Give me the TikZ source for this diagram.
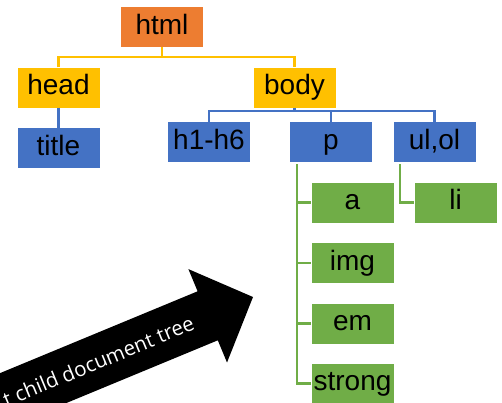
\documentclass[tikz,border=0pt]{standalone}
\usepackage{fontspec}
\setmainfont{Liberation Sans}
\newfontfamily\arrowfont{Open Sans}
\definecolor{orangeC}{HTML}{ED7D31}
\definecolor{yellowC}{HTML}{FFC000}
\definecolor{blueC}{HTML}{4472C4}
\definecolor{greenC}{HTML}{70AD47}
\begin{document}
\begin{tikzpicture}[x=1pt,y=-1pt,
  box/.style={minimum width=82pt, minimum height=40pt, inner sep=0pt,
    text height=20pt, text depth=6pt, font=\fontsize{28}{30}\selectfont},
  yline/.style={draw=yellowC, line width=2.5pt},
  bline/.style={draw=blueC, line width=2.5pt},
  gline/.style={draw=greenC, line width=2.5pt},
  arrowtext/.style={text=white, inner sep=0pt, font=\arrowfont\fontsize{20.5}{22}\selectfont}]
\useasboundingbox (0,0) rectangle (502,402);
\clip (0,0) rectangle (502,402);
\node[box,fill=orangeC] (html) at (162,27) {html};
\node[box,fill=yellowC] (head) at (58.5,87.5) {head};
\node[box,fill=yellowC] (body) at (294.5,87.5) {body};
\node[box,fill=blueC] (title) at (58.5,148) {title};
\node[box,fill=blueC] (h16) at (209,142) {h1-h6};
\node[box,fill=blueC] (p) at (331,142) {p};
\node[box,fill=blueC] (ulol) at (434.5,142) {ul,ol};
\node[box,fill=greenC] (a) at (352.5,202.5) {a};
\node[box,fill=greenC] (li) at (455.5,202.5) {li};
\node[box,fill=greenC] (img) at (352.5,263) {img};
\node[box,fill=greenC] (em) at (352.5,323.5) {em};
\node[box,fill=greenC] (strong) at (352.5,383.5) {strong};
% yellow connectors
\coordinate (yj) at (162,57);
\draw[yline] (html.south) -- (yj);
\draw[yline] (head.north) |- (yj) -| (body.north);
% blue connectors
\coordinate (bj) at (294.5,111);
\draw[bline] (head.south) -- (title.north);
\draw[bline] (body.south) -- (bj);
\draw[bline] (h16.north) |- (bj) -| (ulol.north);
\draw[bline] (p.north) -- (p.north |- bj);
% green connectors
\coordinate (pg) at (297,164);
\draw[gline] (pg) |- (strong.west);
\foreach \n in {a,img,em} \draw[gline] (pg |- \n.west) -- (\n.west);
\coordinate (ug) at (400,164);
\draw[gline] (ug) |- (li.west);
% big arrow
\fill[black] (-79.6,406.1) -- (197.6,291.3) -- (188.4,269.1) -- (253,297)
  -- (227,362.5) -- (217.8,340.3) -- (-59.4,455.1) -- cycle;
\node[arrowtext, rotate=22.5, anchor=east] (lbl) at (192.9,321.9) {t child document tree};
\end{tikzpicture}
\end{document}
